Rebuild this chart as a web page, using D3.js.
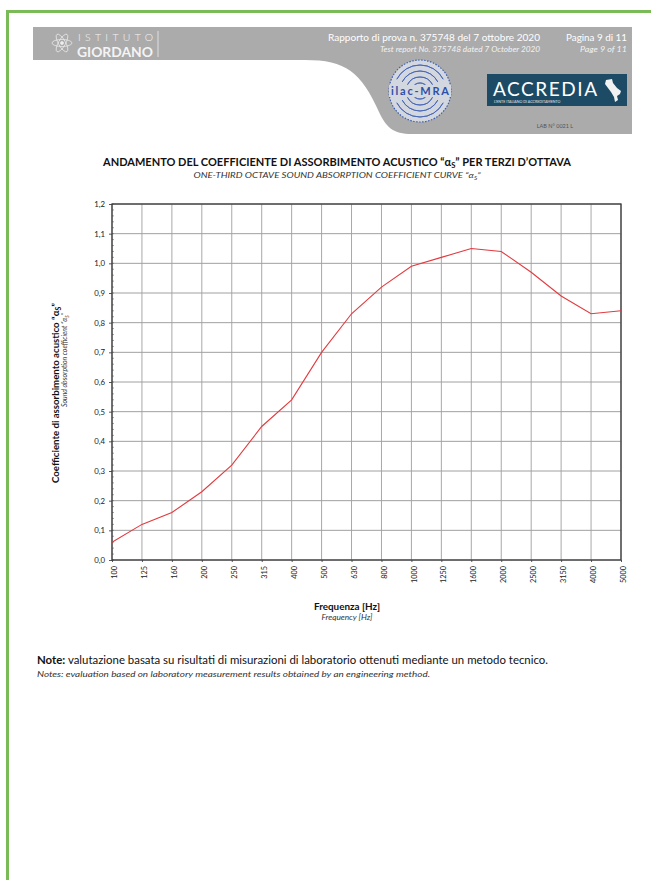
<!DOCTYPE html>
<html>
<head>
<meta charset="utf-8">
<script src="https://cdn.jsdelivr.net/npm/d3@7"></script>
<style>
  html, body { margin: 0; padding: 0; background: #fff; }
  svg { display: block; font-family: Lato, "Open Sans", sans-serif; }
</style>
</head>
<body>
<div id="chart"></div>
<script>
// one-third octave bands
var frequencies = ['100', '125', '160', '200', '250', '315', '400', '500', '630',
  '800', '1000', '1250', '1600', '2000', '2500', '3150', '4000', '5000'];
// alpha_s
var alphaS = [0.06, 0.12, 0.16, 0.23, 0.32, 0.45, 0.54, 0.70, 0.83,
  0.92, 0.99, 1.02, 1.05, 1.04, 0.97, 0.89, 0.83, 0.84];
var yTicks = [0, 0.1, 0.2, 0.3, 0.4, 0.5, 0.6, 0.7, 0.8, 0.9, 1.0, 1.1, 1.2];

(function () {
  'use strict';

  var W = 651, H = 880;
  var plot = { left: 112, right: 621, top: 204, bottom: 560 };
  var itFmt = d3.formatLocale({ decimal: ',', thousands: '.', grouping: [3], currency: ['', ''] }).format('.1f');

  var svg = d3.select('#chart').append('svg')
    .attr('width', W).attr('height', H);

  // page border (green)
  svg.append('rect').attr('x', 6).attr('y', 10).attr('width', W).attr('height', 3).attr('fill', '#7aba57');
  svg.append('rect').attr('x', 6).attr('y', 10).attr('width', 3).attr('height', H).attr('fill', '#7aba57');

  drawHeader(svg);

  // titles
  var title = svg.append('text')
    .attr('x', 337).attr('y', 166).attr('text-anchor', 'middle')
    .attr('font-size', 10.8).attr('font-weight', 'bold').attr('fill', '#111')
    .attr('textLength', 468).attr('lengthAdjust', 'spacingAndGlyphs');
  title.append('tspan').text('ANDAMENTO DEL COEFFICIENTE DI ASSORBIMENTO ACUSTICO “α');
  title.append('tspan').attr('font-size', 7.5).attr('dy', 2).text('S');
  title.append('tspan').attr('dy', -2).text('” PER TERZI D’OTTAVA');

  var sub = svg.append('text')
    .attr('x', 337).attr('y', 178).attr('text-anchor', 'middle')
    .attr('font-size', 8.3).attr('font-style', 'italic').attr('fill', '#333')
    .attr('textLength', 287).attr('lengthAdjust', 'spacingAndGlyphs');
  sub.append('tspan').text('ONE-THIRD OCTAVE SOUND ABSORPTION COEFFICIENT CURVE “α');
  sub.append('tspan').attr('font-size', 5.5).attr('dy', 1.5).text('S');
  sub.append('tspan').attr('dy', -1.5).text('”');

  // scales
  var x = d3.scalePoint().domain(frequencies).range([plot.left, plot.right]);
  var y = d3.scaleLinear().domain([0, 1.2]).range([plot.bottom, plot.top]);

  // grid
  var grid = svg.append('g').attr('class', 'grid');
  grid.selectAll('line.v').data(frequencies).enter().append('line')
    .attr('class', 'v')
    .attr('x1', function (d) { return x(d); }).attr('x2', function (d) { return x(d); })
    .attr('y1', plot.top).attr('y2', plot.bottom)
    .attr('stroke', '#a8a8a8').attr('stroke-width', 1);
  grid.selectAll('line.h').data(yTicks).enter().append('line')
    .attr('class', 'h')
    .attr('x1', plot.left).attr('x2', plot.right)
    .attr('y1', function (d) { return y(d); }).attr('y2', function (d) { return y(d); })
    .attr('stroke', '#a0a0a0').attr('stroke-width', 1);

  // y axis with comma decimals
  var yAxis = svg.append('g')
    .attr('transform', 'translate(' + plot.left + ',0)')
    .call(d3.axisLeft(y).tickValues(yTicks).tickSize(3).tickPadding(4).tickFormat(itFmt));
  yAxis.select('.domain').remove();
  yAxis.selectAll('line').attr('stroke', '#555');
  yAxis.selectAll('text').attr('font-size', 7.8).attr('fill', '#222').attr('font-family', 'Lato, sans-serif');

  // minor ticks inside the left axis
  var minor = d3.range(0, 1.2001, 0.02);
  svg.append('g').selectAll('line').data(minor).enter().append('line')
    .attr('x1', plot.left).attr('x2', plot.left + 2)
    .attr('y1', function (d) { return y(d); }).attr('y2', function (d) { return y(d); })
    .attr('stroke', '#666').attr('stroke-width', 0.6);

  // x axis labels (rotated)
  var xAxis = svg.append('g')
    .attr('transform', 'translate(0,' + plot.bottom + ')')
    .call(d3.axisBottom(x).tickSize(2).tickPadding(0));
  xAxis.select('.domain').remove();
  xAxis.selectAll('line').attr('stroke', '#555');
  xAxis.selectAll('text')
    .attr('font-size', 7.3).attr('fill', '#222').attr('font-family', 'Lato, sans-serif')
    .attr('text-anchor', 'end')
    .attr('dy', null)
    .attr('transform', 'translate(2.6,6) rotate(-90)');

  // frame
  svg.append('rect')
    .attr('x', plot.left).attr('y', plot.top)
    .attr('width', plot.right - plot.left).attr('height', plot.bottom - plot.top)
    .attr('fill', 'none').attr('stroke', '#3a3a3a').attr('stroke-width', 1.3);

  // curve
  var line = d3.line()
    .x(function (d, i) { return x(frequencies[i]); })
    .y(function (d) { return y(d); });
  svg.append('path').datum(alphaS)
    .attr('d', line)
    .attr('fill', 'none').attr('stroke', '#e23a3f').attr('stroke-width', 1.1);

  // y axis titles
  var yt = svg.append('text')
    .attr('transform', 'translate(59,393) rotate(-90)')
    .attr('text-anchor', 'middle').attr('font-size', 9.8).attr('font-weight', 'bold').attr('fill', '#111')
    .attr('textLength', 180).attr('lengthAdjust', 'spacingAndGlyphs');
  yt.append('tspan').text('Coefficiente di assorbimento acustico “α');
  yt.append('tspan').attr('font-size', 7).attr('dy', 2).text('S');
  yt.append('tspan').attr('dy', -2).text('”');

  var yt2 = svg.append('text')
    .attr('transform', 'translate(67,360) rotate(-90)')
    .attr('text-anchor', 'middle').attr('font-size', 7.2).attr('font-style', 'italic').attr('fill', '#333')
    .attr('textLength', 94).attr('lengthAdjust', 'spacingAndGlyphs');
  yt2.append('tspan').text('Sound absorption coefficient “α');
  yt2.append('tspan').attr('font-size', 5).attr('dy', 1.5).text('S');
  yt2.append('tspan').attr('dy', -1.5).text('”');

  // x axis titles
  svg.append('text').attr('x', 347).attr('y', 610).attr('text-anchor', 'middle')
    .attr('font-size', 9.8).attr('font-weight', 'bold').attr('fill', '#111')
    .attr('textLength', 66).attr('lengthAdjust', 'spacingAndGlyphs').text('Frequenza [Hz]');
  svg.append('text').attr('x', 347).attr('y', 620).attr('text-anchor', 'middle')
    .attr('font-size', 7.2).attr('font-style', 'italic').attr('fill', '#333')
    .attr('textLength', 51).attr('lengthAdjust', 'spacingAndGlyphs').text('Frequency [Hz]');

  // notes
  var note = svg.append('text').attr('x', 37).attr('y', 664)
    .attr('font-size', 10.6).attr('fill', '#111')
    .attr('textLength', 511).attr('lengthAdjust', 'spacingAndGlyphs');
  note.append('tspan').attr('font-weight', 'bold').text('Note:');
  note.append('tspan').text(' valutazione basata su risultati di misurazioni di laboratorio ottenuti mediante un metodo tecnico.');
  svg.append('text').attr('x', 37).attr('y', 677)
    .attr('font-size', 7.8).attr('font-style', 'italic').attr('fill', '#333')
    .attr('textLength', 393).attr('lengthAdjust', 'spacingAndGlyphs')
    .text('Notes:  evaluation based on laboratory measurement results obtained by an engineering method.');

  function drawHeader(svg) {
    var g = svg.append('g');
    g.append('path')
      .attr('d', 'M33,27 H632 V134 H412 C393,134 386,127 379,112 C361,72 346,60 305,60 H33 Z')
      .attr('fill', '#ababab');

    // logo
    var logo = g.append('g').attr('fill', 'none').attr('stroke', '#eee').attr('stroke-width', 0.7);
    [0, 60, -60].forEach(function (a) {
      logo.append('ellipse').attr('cx', 62).attr('cy', 43).attr('rx', 10).attr('ry', 3.5)
        .attr('transform', 'rotate(' + a + ',62,43)');
    });
    logo.append('circle').attr('cx', 62).attr('cy', 43).attr('r', 1.5).attr('fill', '#eee');
    g.append('text').attr('x', 78).attr('y', 41).attr('font-size', 10.5)
      .attr('fill', '#f4f4f4').attr('font-weight', 300)
      .attr('textLength', 75).attr('lengthAdjust', 'spacing').text('ISTITUTO');
    g.append('text').attr('x', 77).attr('y', 56.5).attr('font-size', 13)
      .attr('fill', '#f4f4f4').attr('font-weight', 'bold')
      .attr('textLength', 76).attr('lengthAdjust', 'spacingAndGlyphs').text('GIORDANO');
    g.append('line').attr('x1', 158).attr('x2', 158).attr('y1', 31).attr('y2', 57)
      .attr('stroke', '#eee').attr('stroke-width', 0.8);

    g.append('text').attr('x', 540).attr('y', 41).attr('text-anchor', 'end').attr('font-size', 9.5)
      .attr('fill', '#fff').attr('textLength', 212).attr('lengthAdjust', 'spacingAndGlyphs')
      .text('Rapporto di prova n. 375748 del 7 ottobre 2020');
    g.append('text').attr('x', 627).attr('y', 41).attr('text-anchor', 'end').attr('font-size', 9.5)
      .attr('fill', '#fff').attr('textLength', 61).attr('lengthAdjust', 'spacingAndGlyphs')
      .text('Pagina 9 di 11');
    g.append('text').attr('x', 540).attr('y', 52).attr('text-anchor', 'end').attr('font-size', 7.5)
      .attr('font-style', 'italic').attr('fill', '#f2f2f2')
      .attr('textLength', 160).attr('lengthAdjust', 'spacingAndGlyphs')
      .text('Test report No. 375748 dated 7 October 2020');
    g.append('text').attr('x', 627).attr('y', 52).attr('text-anchor', 'end').attr('font-size', 7.5)
      .attr('font-style', 'italic').attr('fill', '#f2f2f2')
      .attr('textLength', 47).attr('lengthAdjust', 'spacingAndGlyphs').text('Page 9 of 11');

    // ilac-MRA seal
    var seal = g.append('g').attr('transform', 'translate(420,91)');
    seal.append('circle').attr('r', 31).attr('fill', '#d3d7e0').attr('stroke', '#3f5fae').attr('stroke-width', 1.2)
      .attr('stroke-dasharray', '1.5,1.5');
    [8, 14, 20, 26].forEach(function (r) {
      seal.append('path').attr('d', d3.arc()({ innerRadius: r, outerRadius: r, startAngle: -1.1, endAngle: 1.1 }))
        .attr('fill', 'none').attr('stroke', '#4a67b5').attr('stroke-width', 0.9);
      seal.append('path').attr('d', d3.arc()({ innerRadius: r, outerRadius: r, startAngle: Math.PI - 1.1, endAngle: Math.PI + 1.1 }))
        .attr('fill', 'none').attr('stroke', '#4a67b5').attr('stroke-width', 0.9);
    });
    seal.append('rect').attr('x', -31).attr('y', -6).attr('width', 62).attr('height', 12).attr('fill', '#d3d7e0');
    seal.append('text').attr('y', 4).attr('text-anchor', 'middle').attr('font-size', 11).attr('font-weight', 'bold')
      .attr('fill', '#2e4fa8').attr('textLength', 58).text('ilac-MRA');

    // ACCREDIA badge
    g.append('rect').attr('x', 487).attr('y', 74).attr('width', 140).attr('height', 32).attr('fill', '#1d4b66');
    g.append('text').attr('x', 493).attr('y', 96).attr('font-size', 19).attr('fill', '#fff')
      .attr('textLength', 104).text('ACCREDIA');
    g.append('text').attr('x', 494).attr('y', 102.5).attr('font-size', 3.6).attr('fill', '#e8e8e8')
      .text('L’ENTE ITALIANO DI ACCREDITAMENTO');
    g.append('path')
      .attr('d', 'M606,80 L612,79 L613,83 L617,88 L621,91 L620,94 L617,96 L618,100 L615,102 L614,97 L611,92 L608,88 L605,84 Z')
      .attr('fill', '#f2f2f2');
    g.append('text').attr('x', 555).attr('y', 128).attr('text-anchor', 'middle').attr('font-size', 5.5)
      .attr('fill', '#555').text('LAB N° 0021 L');
  }
})();
</script>
</body>
</html>
